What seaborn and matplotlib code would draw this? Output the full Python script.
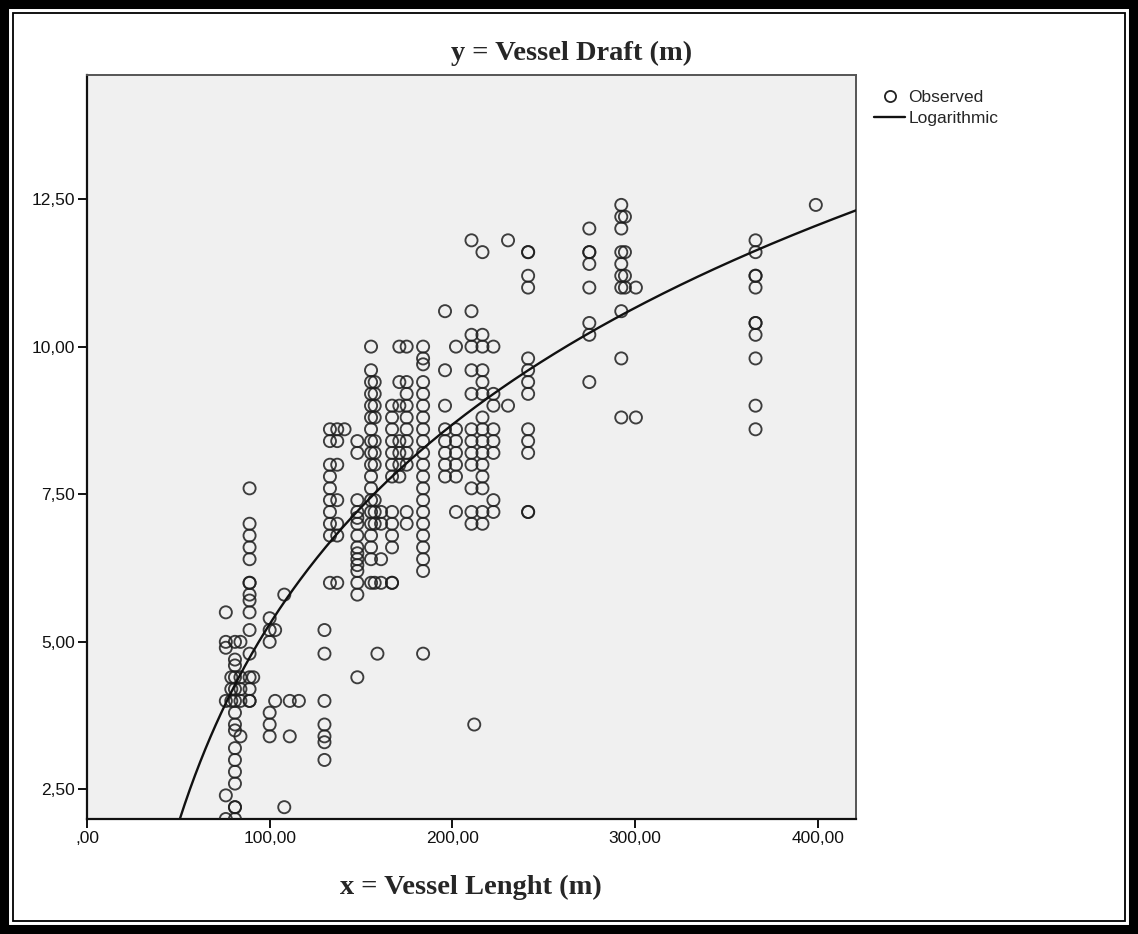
import numpy as np
import pandas as pd
import matplotlib
matplotlib.use("Agg")
import matplotlib.pyplot as plt
from matplotlib.patches import Rectangle
from matplotlib.lines import Line2D
import seaborn as sns

# ---------------- data ----------------
# vessel lengths (m) of each vertical group of observations
length_groups = [76, 79, 81, 84, 89, 91, 100, 103, 108, 111, 116, 130,
                 133, 137, 141, 148, 155.5, 157.5, 159, 161, 167, 171, 175,
                 184, 196, 202, 210.5, 212, 216.5, 222.5, 230.5, 241.5,
                 275, 292.5, 294.5, 300.5, 366, 399]
# observed drafts (m) in each group
draft_groups = [
    [5.5, 5.0, 4.9, 4.0, 2.4, 2.0],
    [4.4, 4.2, 4.0],
    [5.0, 4.7, 4.6, 4.4, 4.2, 4.0, 3.8, 3.6, 3.5, 3.2, 3.0, 2.8, 2.6, 2.2, 2.2, 2.0],
    [5.0, 4.4, 4.2, 4.0, 3.4],
    [7.6, 7.0, 6.8, 6.6, 6.4, 6.0, 6.0, 5.8, 5.7, 5.5, 5.2, 4.8, 4.4, 4.2, 4.0, 4.0],
    [4.4],
    [5.4, 5.2, 5.0, 3.8, 3.6, 3.4],
    [5.2, 4.0],
    [5.8, 2.2],
    [4.0, 3.4],
    [4.0],
    [5.2, 4.8, 4.0, 3.6, 3.4, 3.3, 3.0],
    [8.6, 8.4, 8.0, 7.8, 7.6, 7.4, 7.2, 7.0, 6.8, 6.0],
    [8.6, 8.4, 8.0, 7.4, 7.0, 6.8, 6.0],
    [8.6],
    [8.4, 8.2, 7.4, 7.2, 7.1, 7.0, 6.8, 6.6, 6.5, 6.4, 6.3, 6.2, 6.0, 5.8, 4.4],
    [10.0, 9.6, 9.4, 9.2, 9.0, 8.8, 8.6, 8.4, 8.2, 8.0, 7.8, 7.6, 7.4, 7.2, 7.0, 6.8, 6.6, 6.4, 6.0],
    [9.4, 9.2, 9.0, 8.8, 8.4, 8.2, 8.0, 7.4, 7.2, 7.0, 6.0],
    [4.8],
    [7.2, 7.0, 6.4, 6.0],
    [9.0, 8.8, 8.6, 8.4, 8.2, 8.0, 7.8, 7.2, 7.0, 6.8, 6.6, 6.0, 6.0],
    [10.0, 9.4, 9.0, 8.4, 8.2, 8.0, 7.8],
    [10.0, 9.4, 9.2, 9.0, 8.8, 8.6, 8.4, 8.2, 8.0, 7.2, 7.0],
    [10.0, 9.8, 9.7, 9.4, 9.2, 9.0, 8.8, 8.6, 8.4, 8.2, 8.0, 7.8, 7.6, 7.4, 7.2, 7.0, 6.8, 6.6, 6.4, 6.2, 4.8],
    [10.6, 9.6, 9.0, 8.6, 8.4, 8.2, 8.0, 7.8],
    [10.0, 8.6, 8.4, 8.2, 8.0, 7.8, 7.2],
    [11.8, 10.6, 10.2, 10.0, 9.6, 9.2, 8.6, 8.4, 8.2, 8.0, 7.6, 7.2, 7.0],
    [3.6],
    [11.6, 10.2, 10.0, 9.6, 9.4, 9.2, 8.8, 8.6, 8.4, 8.2, 8.0, 7.8, 7.6, 7.2, 7.0],
    [10.0, 9.2, 9.0, 8.6, 8.4, 8.2, 7.4, 7.2],
    [11.8, 9.0],
    [11.6, 11.6, 11.2, 11.0, 9.8, 9.6, 9.4, 9.2, 8.6, 8.4, 8.2, 7.2, 7.2],
    [12.0, 11.6, 11.6, 11.4, 11.0, 10.4, 10.2, 9.4],
    [12.4, 12.2, 12.0, 11.6, 11.4, 11.2, 11.0, 10.6, 9.8, 8.8],
    [12.2, 11.6, 11.2, 11.0],
    [11.0, 8.8],
    [11.8, 11.6, 11.2, 11.2, 11.0, 10.4, 10.4, 10.2, 9.8, 9.0, 8.6],
    [12.4],
]

# logarithmic model y = a + b*ln(x), coefficients
log_a = -17.15
log_b = 4.875

x_ticks = [0, 100, 200, 300, 400]
x_tick_labels = [",00", "100,00", "200,00", "300,00", "400,00"]
y_ticks = [2.5, 5.0, 7.5, 10.0, 12.5]
y_tick_labels = ["2,50", "5,00", "7,50", "10,00", "12,50"]

title_text = "y = Vessel Draft (m)"
xlabel_text = "x = Vessel Lenght (m)"
legend_labels = ["Observed", "Logarithmic"]

# ---------------- build frame ----------------
rows = []
for L, ds in zip(length_groups, draft_groups):
    for d in ds:
        rows.append((L, d))
df = pd.DataFrame(rows, columns=["length", "draft"])

sns.set_style("white")
plt.rcParams["font.family"] = ["Liberation Sans", "DejaVu Sans"]

W, H = 1138, 934
fig = plt.figure(figsize=(W / 100, H / 100), dpi=100)
ax = fig.add_axes([87 / W, 1 - 819 / H, (856 - 87) / W, (819 - 75) / H])
ax.set_facecolor("#f0f0f0")

xlim = (0, 421)
ylim = (2.0, 14.6)

sns.scatterplot(data=df, x="length", y="draft", ax=ax, marker="o", s=76,
                facecolor="none", edgecolor="#1e1e1e", linewidth=1.35,
                alpha=0.85, legend=False, zorder=3)

xs = np.linspace(45, xlim[1], 400)
curve = pd.DataFrame({"x": xs, "y": log_a + log_b * np.log(xs)})
sns.lineplot(data=curve, x="x", y="y", ax=ax, color="#111111", lw=1.7,
             estimator=None, sort=False, zorder=4)

ax.set_xlim(*xlim)
ax.set_ylim(*ylim)
ax.set_xticks(x_ticks)
ax.set_xticklabels(x_tick_labels)
ax.set_yticks(y_ticks)
ax.set_yticklabels(y_tick_labels)
ax.set_xlabel("")
ax.set_ylabel("")
ax.tick_params(direction="out", length=6.5, width=1.4, pad=2,
               labelsize=12.5, colors="#111111", bottom=True, left=True)

for side in ["left", "bottom"]:
    ax.spines[side].set_color("#111111")
    ax.spines[side].set_linewidth(1.6)
for side in ["top", "right"]:
    ax.spines[side].set_color("#555555")
    ax.spines[side].set_linewidth(1.4)
    ax.spines[side].set_visible(True)

# titles
fig.text(572 / W, 1 - 53 / H, title_text, ha="center", va="center",
         fontsize=20.5, fontweight="bold", family=["Liberation Serif", "DejaVu Serif"])
fig.text(471 / W, 1 - 887 / H, xlabel_text, ha="center", va="center",
         fontsize=20.5, fontweight="bold", family=["Liberation Serif", "DejaVu Serif"])

# legend
handles = [
    Line2D([], [], marker="o", ls="none", mfc="none", mec="#222222", mew=1.3, ms=8),
    Line2D([], [], color="#111111", lw=1.7),
]
fig.legend(handles, legend_labels, loc="upper left",
           bbox_to_anchor=(860 / W, 1 - 76 / H), frameon=False,
           fontsize=12.5, handlelength=1.8, handletextpad=0.2,
           labelspacing=0.35, borderpad=0.3)

# page border (thick outer frame + thin inner line)
fig.patches.append(Rectangle((0, 0), 1, 1, transform=fig.transFigure,
                             fill=False, ec="black", lw=13, zorder=10))
fig.patches.append(Rectangle((13 / W, 13 / H), 1 - 26 / W, 1 - 26 / H,
                             transform=fig.transFigure, fill=False,
                             ec="black", lw=1.3, zorder=10))

fig.savefig("out.png", dpi=100, facecolor="white")
